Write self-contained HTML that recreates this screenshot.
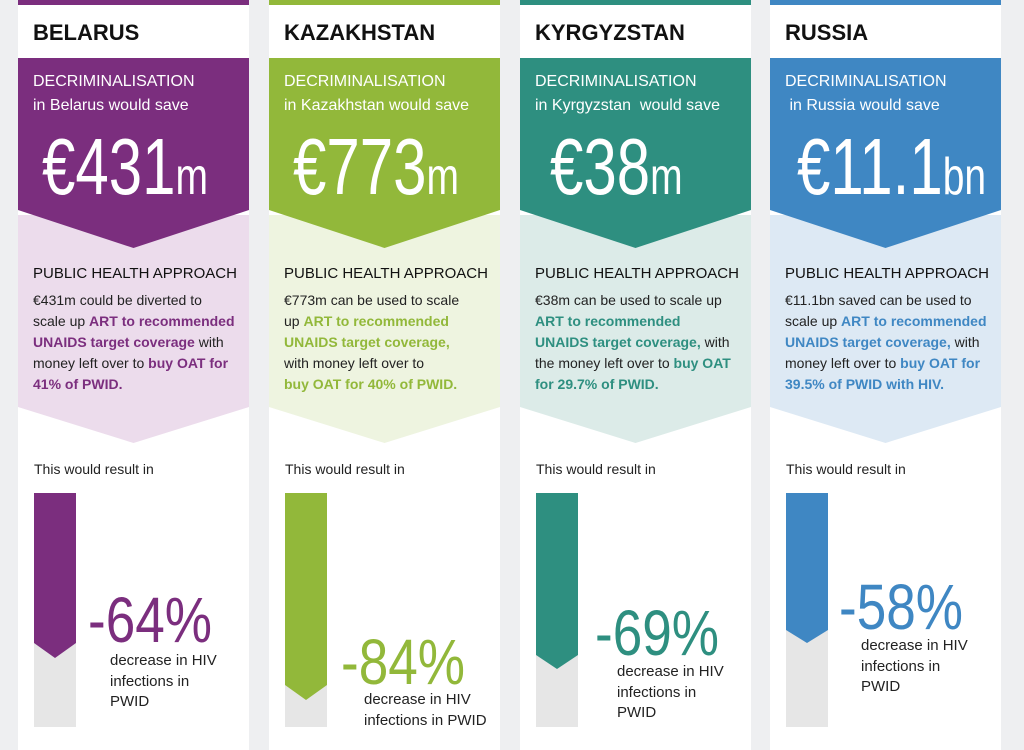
<!DOCTYPE html>
<html><head><meta charset="utf-8"><style>
*{margin:0;padding:0;box-sizing:border-box}
body{width:1024px;height:750px;background:#eeeff1;position:relative;overflow:hidden;font-family:"Liberation Sans",sans-serif}
.col{position:absolute;top:0;width:231px;height:750px;background:#fff}
.bar{position:absolute;left:0;top:0;width:231px;height:5px}
.t{position:absolute;white-space:nowrap}
.title{left:15px;top:20px;font-size:22px;font-weight:bold;color:#111}
.box{position:absolute;left:0;top:58px;width:231px}
.dec{left:15px;top:73px;font-size:16px;color:#fff}
.sv{left:15px;top:97px;font-size:16px;color:#fff}
.big{top:121px;font-size:80px;color:#fff;transform:scaleX(0.75);transform-origin:0 0}
.big span{font-size:52px}
.ph{left:15px;top:265px;font-size:15px;color:#111}
.body{left:15px;top:290px;font-size:14px;line-height:21px;color:#222}
.res{left:16px;top:461px;font-size:14px;color:#222}
.pb{position:absolute;left:16px;top:493px;width:42px;height:234px;background:#e6e6e6}
.pct{font-size:64px;transform:scaleX(0.83);transform-origin:0 0}
.dtxt{font-size:15px;line-height:20.5px;color:#222}
</style></head><body>

<div class="col" style="left:18px">
<div class="bar" style="background:#7b2e7e"></div>
<div class="t title">BELARUS</div>
<svg class="box" height="390" width="231"><polygon points="0,157 231,157 231,349 115.5,385 0,349" fill="#ecdcec"/><polygon points="0,0 231,0 231,152 115.5,190 0,152" fill="#7b2e7e"/></svg>
<div class="t dec">DECRIMINALISATION</div>
<div class="t sv">in Belarus would save</div>
<div class="t big" style="left:24px">€431<span>m</span></div>
<div class="t ph">PUBLIC HEALTH APPROACH</div>
<div class="t body">€431m could be diverted to<br>scale up <b style="color:#7b2e7e">ART to recommended<br>UNAIDS target coverage</b> with<br>money left over to <b style="color:#7b2e7e">buy OAT for<br>41% of PWID.</b></div>
<div class="t res">This would result in</div>
<div class="pb"></div>
<svg style="position:absolute;left:16px;top:493px" width="42" height="170"><polygon points="0,0 42,0 42,150 21,165 0,150" fill="#7b2e7e"/></svg>
<div class="t pct" style="left:70px;top:583px;color:#7b2e7e">-64%</div>
<div class="t dtxt" style="left:92px;top:651px">decrease in HIV<br>infections in<br>PWID</div>
</div>

<div class="col" style="left:269px">
<div class="bar" style="background:#92b83a"></div>
<div class="t title">KAZAKHSTAN</div>
<svg class="box" height="390" width="231"><polygon points="0,157 231,157 231,349 115.5,385 0,349" fill="#eef4e0"/><polygon points="0,0 231,0 231,152 115.5,190 0,152" fill="#92b83a"/></svg>
<div class="t dec">DECRIMINALISATION</div>
<div class="t sv">in Kazakhstan would save</div>
<div class="t big" style="left:24px">€773<span>m</span></div>
<div class="t ph">PUBLIC HEALTH APPROACH</div>
<div class="t body">€773m can be used to scale<br>up <b style="color:#92b83a">ART to recommended<br>UNAIDS target coverage,</b><br>with money left over to<br><b style="color:#92b83a">buy OAT for 40% of PWID.</b></div>
<div class="t res">This would result in</div>
<div class="pb"></div>
<svg style="position:absolute;left:16px;top:493px" width="42" height="210"><polygon points="0,0 42,0 42,192 21,207 0,192" fill="#92b83a"/></svg>
<div class="t pct" style="left:72px;top:625px;color:#92b83a">-84%</div>
<div class="t dtxt" style="left:95px;top:690px">decrease in HIV<br>infections in PWID</div>
</div>

<div class="col" style="left:520px">
<div class="bar" style="background:#2e8f80"></div>
<div class="t title">KYRGYZSTAN</div>
<svg class="box" height="390" width="231"><polygon points="0,157 231,157 231,349 115.5,385 0,349" fill="#dcebe8"/><polygon points="0,0 231,0 231,152 115.5,190 0,152" fill="#2e8f80"/></svg>
<div class="t dec">DECRIMINALISATION</div>
<div class="t sv">in Kyrgyzstan &nbsp;would save</div>
<div class="t big" style="left:30px">€38<span>m</span></div>
<div class="t ph">PUBLIC HEALTH APPROACH</div>
<div class="t body">€38m can be used to scale up<br><b style="color:#2e8f80">ART to recommended<br>UNAIDS target coverage,</b> with<br>the money left over to <b style="color:#2e8f80">buy OAT<br>for 29.7% of PWID.</b></div>
<div class="t res">This would result in</div>
<div class="pb"></div>
<svg style="position:absolute;left:16px;top:493px" width="42" height="180"><polygon points="0,0 42,0 42,162 21,176 0,162" fill="#2e8f80"/></svg>
<div class="t pct" style="left:75px;top:596px;color:#2e8f80">-69%</div>
<div class="t dtxt" style="left:97px;top:662px">decrease in HIV<br>infections in<br>PWID</div>
</div>

<div class="col" style="left:770px">
<div class="bar" style="background:#3f87c3"></div>
<div class="t title">RUSSIA</div>
<svg class="box" height="390" width="231"><polygon points="0,157 231,157 231,349 115.5,385 0,349" fill="#dde9f4"/><polygon points="0,0 231,0 231,152 115.5,190 0,152" fill="#3f87c3"/></svg>
<div class="t dec">DECRIMINALISATION</div>
<div class="t sv">&nbsp;in Russia would save</div>
<div class="t big" style="left:27px">€11.1<span>bn</span></div>
<div class="t ph">PUBLIC HEALTH APPROACH</div>
<div class="t body">€11.1bn saved can be used to<br>scale up <b style="color:#3f87c3">ART to recommended<br>UNAIDS target coverage,</b> with<br>money left over to <b style="color:#3f87c3">buy OAT for<br>39.5% of PWID with HIV.</b></div>
<div class="t res">This would result in</div>
<div class="pb"></div>
<svg style="position:absolute;left:16px;top:493px" width="42" height="160"><polygon points="0,0 42,0 42,137 21,150 0,137" fill="#3f87c3"/></svg>
<div class="t pct" style="left:69px;top:570px;color:#3f87c3">-58%</div>
<div class="t dtxt" style="left:91px;top:636px">decrease in HIV<br>infections in<br>PWID</div>
</div>
</body></html>
